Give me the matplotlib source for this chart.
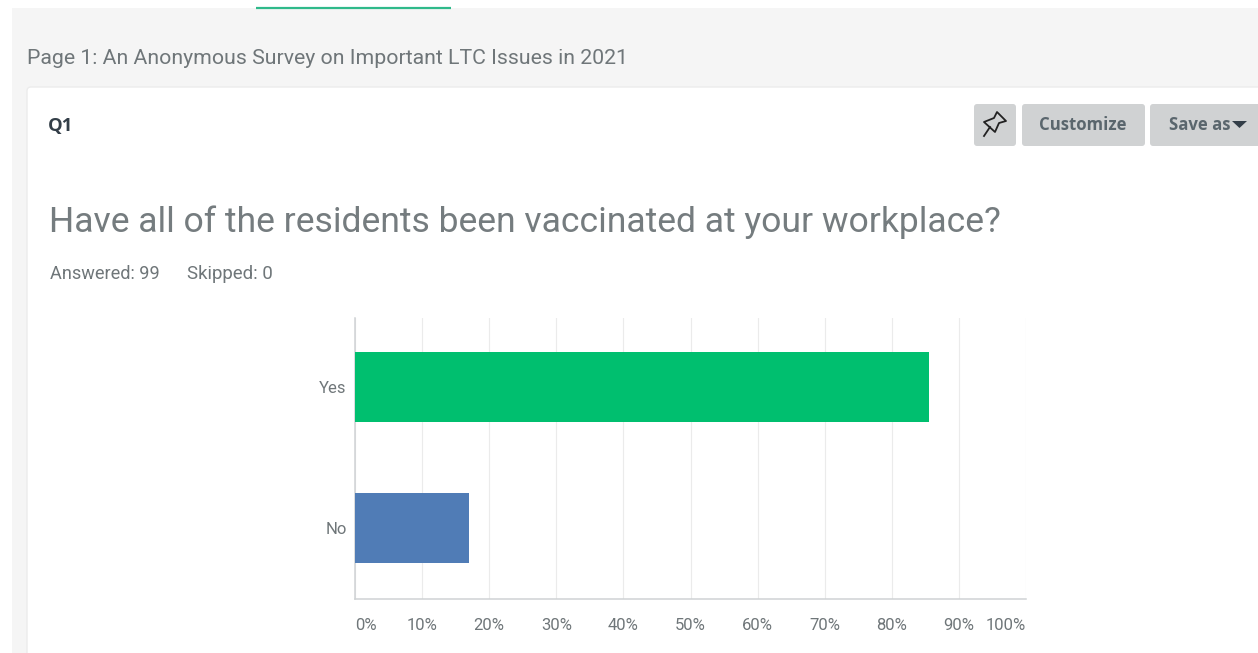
import numpy as np
import matplotlib.pyplot as plt
from matplotlib.patches import FancyBboxPatch, Rectangle, Polygon

W, H = 1258, 653

answers = ['Yes', 'No']
percents = [85.6, 17.0]
bar_colors = ['#00bf6f', '#507cb6']
ticks = [0, 10, 20, 30, 40, 50, 60, 70, 80, 90, 100]

plt.rcParams['font.family'] = ['Open Sans', 'DejaVu Sans']
light = ['Roboto', 'DejaVu Sans']
grey = '#6f7679'

fig = plt.figure(figsize=(W / 100, H / 100), dpi=100, facecolor='white')

# page furniture, drawn in pixel coordinates
bg = fig.add_axes([0, 0, 1, 1])
bg.set_xlim(0, W)
bg.set_ylim(H, 0)
bg.axis('off')

bg.add_patch(Rectangle((12, 8), W - 12, H - 8, fc='#f5f5f5', ec='none'))
bg.plot([256, 451], [8, 8], color='#2fb98a', lw=1.6, solid_capstyle='butt')
bg.add_patch(FancyBboxPatch((27, 87), W, H, boxstyle='round,pad=0,rounding_size=4',
                            fc='white', ec='#ececec', lw=1))

bg.text(27, 58, 'Page 1: An Anonymous Survey on Important LTC Issues in 2021',
        fontsize=15.35, color=grey, va='center', family=light)
bg.text(48, 126, 'Q1', fontsize=13.2, color='#333e48', weight='bold', va='center')
bg.text(49, 222, 'Have all of the residents been vaccinated at your workplace?',
        fontsize=25.55, color='#757c7f', va='center', family=light)
bg.text(50, 274, 'Answered: 99', fontsize=13.1, color=grey, va='center', family=light)
bg.text(187, 274, 'Skipped: 0', fontsize=13.4, color=grey, va='center', family=light)

# buttons
for x0, x1 in [(974, 1016), (1022, 1145), (1150, 1262)]:
    bg.add_patch(FancyBboxPatch((x0, 104), x1 - x0, 42, boxstyle='round,pad=0,rounding_size=3',
                                fc='#d0d2d3', ec='none'))
bg.text(1083, 125, 'Customize', fontsize=12.1, color='#5a666d', weight='bold', ha='center', va='center')
bg.text(1169, 125, 'Save as', fontsize=12.1, color='#5a666d', weight='bold', va='center')
bg.add_patch(Polygon([(1232, 121), (1247, 121), (1239.5, 128)], fc='#333e48', ec='none'))

# pin icon
bg.add_patch(Polygon([(997, 112), (1006, 121), (999, 123), (995, 132), (984, 122), (994, 118)],
                     fc='none', ec='#222222', lw=1.3, joinstyle='round'))
bg.plot([984, 990], [136, 127], color='#222222', lw=1.3)

# the chart
ax = fig.add_axes([355 / W, 1 - 599 / H, (1026 - 355) / W, (599 - 318) / H])
ax.set_facecolor('none')
ax.barh([1, 0], percents, height=0.5, color=bar_colors, zorder=3)
ax.set_xlim(0, 100)
ax.set_ylim(-0.507, 1.493)
ax.set_xticks(ticks)
ax.set_xticklabels([f'{t}%' for t in ticks], fontsize=12, color=grey, family=light)
ax.set_yticks([1, 0])
ax.set_yticklabels(answers, fontsize=12, color=grey, family=light)
ax.tick_params(axis='x', length=0, pad=14)
ax.tick_params(axis='y', length=0, pad=6)
ax.grid(axis='x', color='#ebebeb', lw=0.8, zorder=0)
# end labels stay inside the plot width
labels = ax.get_xticklabels()
labels[0].set_ha('left')
labels[-1].set_ha('right')
for side in ['top', 'right']:
    ax.spines[side].set_visible(False)
for side in ['left', 'bottom']:
    ax.spines[side].set_color('#cfd2d4')
    ax.spines[side].set_linewidth(1.1)

fig.savefig('out.png', dpi=100)
